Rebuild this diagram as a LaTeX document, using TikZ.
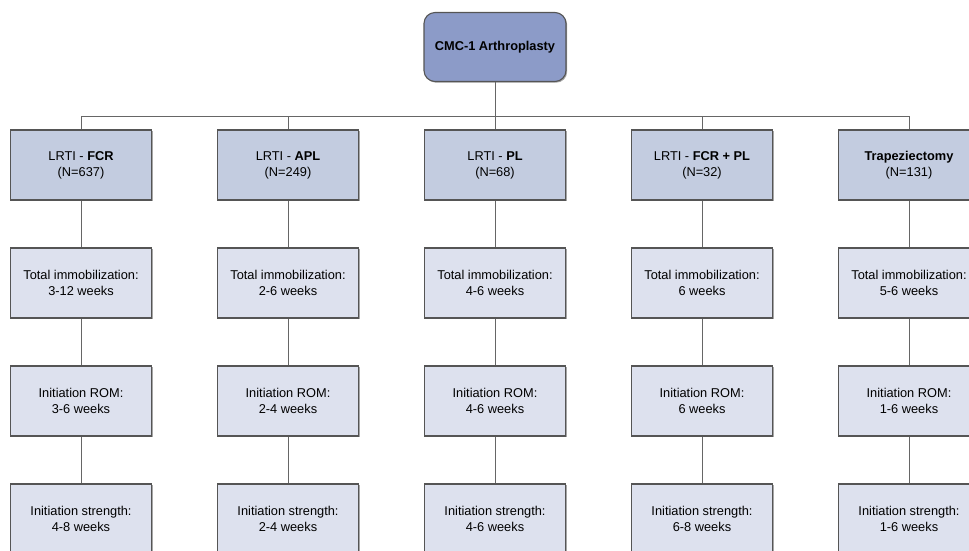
\documentclass[tikz,border=0pt]{standalone}
\usepackage{fontspec}
\setmainfont{Liberation Sans}
\usetikzlibrary{shadows}
\definecolor{topfill}{HTML}{8C9BC8}
\definecolor{headfill}{HTML}{C3CCE0}
\definecolor{detfill}{HTML}{DDE1EE}
\definecolor{edge}{HTML}{555555}
\definecolor{conn}{HTML}{666666}
\tikzset{
  base/.style={draw=edge, line width=1.1pt, minimum width=141pt, minimum height=70pt,
    inner sep=0pt, align=center, font=\fontsize{12.8}{16}\selectfont,
    drop shadow={shadow xshift=1.2pt, shadow yshift=-1.2pt, opacity=0.35, fill=black}},
  topbox/.style={base, fill=topfill, rounded corners=11pt, minimum width=142pt, minimum height=69pt, font=\bfseries\fontsize{12.8}{16}\selectfont},
  headbox/.style={base, fill=headfill},
  detbox/.style={base, fill=detfill},
  conn/.style={draw=conn, line width=1pt}
}
\begin{document}
\begin{tikzpicture}[x=1pt,y=1pt]
\useasboundingbox (0,0) rectangle (969,-550);
\clip (0,0) rectangle (969,-550);
\node[topbox] (top) at (495,-47) {CMC-1 Arthroplasty};
\coordinate (bus) at (495,-116);

\node[headbox] (h1) at (81,-165) {LRTI - \textbf{FCR}\\(N=637)};
\node[headbox] (h2) at (288,-165) {LRTI - \textbf{APL}\\(N=249)};
\node[headbox] (h3) at (495,-165) {LRTI - \textbf{PL}\\(N=68)};
\node[headbox] (h4) at (702,-165) {LRTI - \textbf{FCR + PL}\\(N=32)};
\node[headbox] (h5) at (909,-165) {\textbf{Trapeziectomy}\\(N=131)};

\node[detbox] (t1) at (81,-283) {Total immobilization:\\3-12 weeks};
\node[detbox] (t2) at (288,-283) {Total immobilization:\\2-6 weeks};
\node[detbox] (t3) at (495,-283) {Total immobilization:\\4-6 weeks};
\node[detbox] (t4) at (702,-283) {Total immobilization:\\6 weeks};
\node[detbox] (t5) at (909,-283) {Total immobilization:\\5-6 weeks};

\node[detbox] (r1) at (81,-401) {Initiation ROM:\\3-6 weeks};
\node[detbox] (r2) at (288,-401) {Initiation ROM:\\2-4 weeks};
\node[detbox] (r3) at (495,-401) {Initiation ROM:\\4-6 weeks};
\node[detbox] (r4) at (702,-401) {Initiation ROM:\\6 weeks};
\node[detbox] (r5) at (909,-401) {Initiation ROM:\\1-6 weeks};

\node[detbox] (s1) at (81,-519) {Initiation strength:\\4-8 weeks};
\node[detbox] (s2) at (288,-519) {Initiation strength:\\2-4 weeks};
\node[detbox] (s3) at (495,-519) {Initiation strength:\\4-6 weeks};
\node[detbox] (s4) at (702,-519) {Initiation strength:\\6-8 weeks};
\node[detbox] (s5) at (909,-519) {Initiation strength:\\1-6 weeks};

\draw[conn] (top.south) -- (bus);
\draw[conn] (bus) -| (h1.north);
\draw[conn] (bus) -| (h5.north);
\foreach \i in {2,3,4}{
  \draw[conn] (h\i.north |- bus) -- (h\i.north);
}
\foreach \i in {1,...,5}{
  \draw[conn] (h\i.south) -- (t\i.north);
  \draw[conn] (t\i.south) -- (r\i.north);
  \draw[conn] (r\i.south) -- (s\i.north);
}
\end{tikzpicture}
\end{document}
